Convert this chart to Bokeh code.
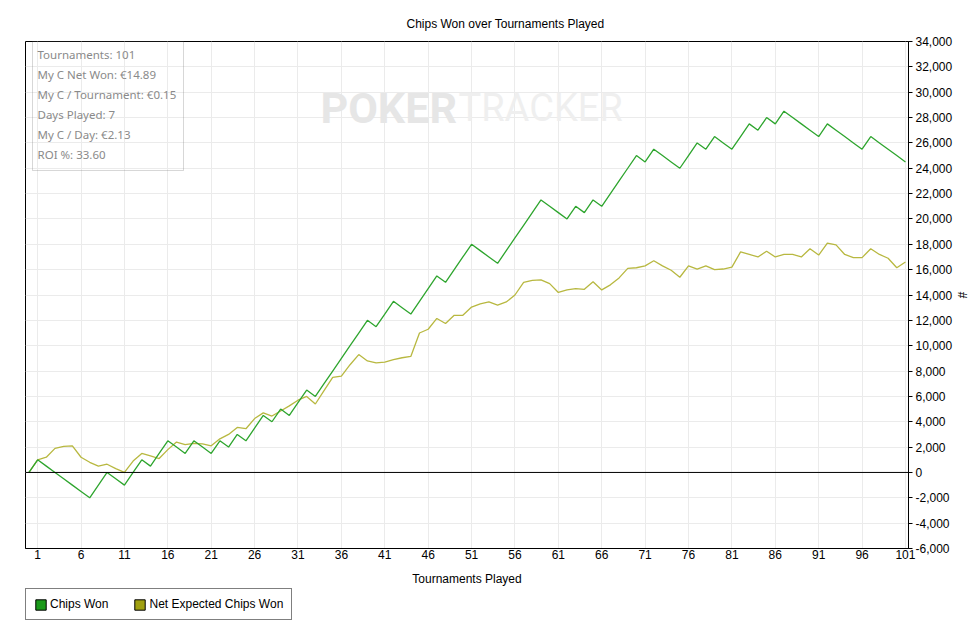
import numpy as np
from bokeh.plotting import figure
from bokeh.layouts import column
from bokeh.models import (FixedTicker, NumeralTickFormatter, Span, Legend, LegendItem,
                          Label, BoxAnnotation, Range1d)
from bokeh.embed import file_html
from bokeh.resources import INLINE

# ---------------- data ----------------
tournaments = list(range(0, 102))

chips_won = [
    0, 1000, 500, 0, -500, -1000, -1500, -2000, -1000, 0,
    -500, -1000, 0, 1000, 500, 1500, 2500, 2000, 1500, 2500,
    2000, 1500, 2500, 2000, 3000, 2500, 3500, 4500, 4000, 5000,
    4500, 5500, 6500, 6000, 7000, 8000, 9000, 10000, 11000, 12000,
    11500, 12500, 13500, 13000, 12500, 13500, 14500, 15500, 15000, 16000,
    17000, 18000, 17500, 17000, 16500, 17500, 18500, 19500, 20500, 21500,
    21000, 20500, 20000, 21000, 20500, 21500, 21000, 22000, 23000, 24000,
    25000, 24500, 25500, 25000, 24500, 24000, 25000, 26000, 25500, 26500,
    26000, 25500, 26500, 27500, 27000, 28000, 27500, 28500, 28000, 27500,
    27000, 26500, 27500, 27000, 26500, 26000, 25500, 26500, 26000, 25500,
    25000, 24500,
]

net_expected = [
    0, 1000, 1200, 1900, 2050, 2100, 1200, 800, 500, 650,
    300, 0, 900, 1500, 1300, 1100, 1800, 2400, 2200, 2300,
    2250, 2100, 2650, 3000, 3550, 3450, 4250, 4700, 4450, 4850,
    5250, 5700, 6000, 5400, 6450, 7500, 7600, 8500, 9300, 8800,
    8650, 8700, 8900, 9050, 9150, 11000, 11300, 12150, 11750, 12400,
    12400, 13050, 13300, 13450, 13200, 13450, 14000, 15000, 15150, 15200,
    14900, 14200, 14400, 14500, 14450, 15050, 14400, 14800, 15350, 16100,
    16150, 16300, 16700, 16300, 15950, 15400, 16300, 16050, 16300, 16000,
    16050, 16200, 17400, 17200, 17000, 17450, 17000, 17200, 17200, 17000,
    17650, 17150, 18100, 17950, 17200, 16950, 16950, 17650, 17200, 16900,
    16150, 16600,
]

x_ticks = [1, 6, 11, 16, 21, 26, 31, 36, 41, 46, 51, 56, 61, 66, 71, 76, 81, 86, 91, 96, 101]
y_ticks = [-6000, -4000, -2000, 0, 2000, 4000, 6000, 8000, 10000, 12000, 14000, 16000,
           18000, 20000, 22000, 24000, 26000, 28000, 30000, 32000, 34000]

stats_lines = [
    "Tournaments: 101",
    "My C Net Won: €14.89",
    "My C / Tournament: €0.15",
    "Days Played: 7",
    "My C / Day: €2.13",
    "ROI %: 33.60",
]

series_names = ["Chips Won", "Net Expected Chips Won"]

FONT = "Liberation Sans"
GREEN = "#2ea52e"
OLIVE = "#b8b840"

# ---------------- main figure ----------------
p = figure(width=972, height=588,
           x_range=Range1d(-0.4, 101.35), y_range=Range1d(-6000, 34000),
           y_axis_location="right",
           output_backend="svg", toolbar_location=None,
           min_border_left=25, min_border_top=41, min_border_right=62, min_border_bottom=40,
           title="Chips Won over Tournaments Played")

p.background_fill_color = "white"
p.border_fill_color = "white"
p.outline_line_color = "black"
p.outline_line_width = 1
p.outline_line_alpha = 1

p.title.text_font = FONT
p.title.text_font_size = "12px"
p.title.text_font_style = "normal"
p.title.text_color = "black"
p.title.align = "left"
p.title.offset = 381
p.title.standoff = 21

# x axis
xt = FixedTicker(ticks=x_ticks)
p.xaxis.ticker = xt
p.xgrid.ticker = xt
p.xaxis.axis_label = "Tournaments Played"
p.xaxis.axis_label_text_font = FONT
p.xaxis.axis_label_text_font_size = "12px"
p.xaxis.axis_label_text_font_style = "normal"
p.xaxis.axis_label_text_color = "black"
p.xaxis.axis_label_standoff = 10
p.xaxis.major_label_text_font = FONT
p.xaxis.major_label_text_font_size = "12px"
p.xaxis.major_label_text_color = "black"
p.xaxis.major_label_standoff = 1
p.xaxis.major_tick_out = 0
p.xaxis.major_tick_in = 0
p.xaxis.minor_tick_out = 0
p.xaxis.minor_tick_in = 0
p.xaxis.axis_line_color = "black"

# y axis (right)
yt = FixedTicker(ticks=y_ticks)
p.yaxis.ticker = yt
p.ygrid.ticker = yt
p.yaxis.formatter = NumeralTickFormatter(format="0,0")
p.yaxis.axis_label = "#"
p.yaxis.axis_label_text_font = FONT
p.yaxis.axis_label_text_font_size = "12px"
p.yaxis.axis_label_text_font_style = "normal"
p.yaxis.axis_label_text_color = "black"
p.yaxis.axis_label_standoff = 0
p.yaxis.major_label_text_font = FONT
p.yaxis.major_label_text_font_size = "12px"
p.yaxis.major_label_text_color = "black"
p.yaxis.major_label_standoff = 3
p.yaxis.major_tick_out = 4
p.yaxis.major_tick_in = 0
p.yaxis.major_tick_line_color = "black"
p.yaxis.minor_tick_out = 0
p.yaxis.minor_tick_in = 0
p.yaxis.axis_line_color = "black"

p.xgrid.grid_line_color = "#ebebeb"
p.ygrid.grid_line_color = "#ebebeb"
p.xgrid.grid_line_width = 1
p.ygrid.grid_line_width = 1

# watermark
p.add_layout(Label(x=295, y=441, x_units="screen", y_units="screen", text="POKER",
                   text_font="Roboto", text_font_size="43px", text_font_style="bold",
                   text_color="#e6e6e6", text_baseline="alphabetic", level="underlay"))
p.add_layout(Label(x=433, y=441, x_units="screen", y_units="screen", text="TRACKER",
                   text_font="Roboto", text_font_size="38px", text_font_style="normal",
                   text_color="#efefef", text_baseline="alphabetic", level="underlay"))

# zero line
p.add_layout(Span(location=0, dimension="width", line_color="black", line_width=1))

# series
p.line(tournaments, net_expected, line_color=OLIVE, line_width=1.3)
p.line(tournaments, chips_won, line_color=GREEN, line_width=1.3)

# stats box
p.add_layout(BoxAnnotation(left=7, right=158, top=507, bottom=378,
                           left_units="screen", right_units="screen",
                           top_units="screen", bottom_units="screen",
                           fill_alpha=0, line_color="#7a7a7a", line_width=1))
for i, s in enumerate(stats_lines):
    p.add_layout(Label(x=12, y=494 - 20 * i, x_units="screen", y_units="screen", text=s,
                       text_font="Noto Sans", text_font_size="11.5px",
                       text_color="#8a8a8a", text_baseline="middle"))

# ---------------- legend strip ----------------
q = figure(width=972, height=52, x_range=Range1d(0, 1), y_range=Range1d(0, 1),
           output_backend="svg", toolbar_location=None,
           x_axis_location=None, y_axis_location=None, min_border=0)
q.grid.visible = False
q.outline_line_color = None
q.background_fill_color = "white"
q.border_fill_color = "white"

nan = np.array([np.nan])
r_g = q.rect(x=nan, y=nan, width=1, height=1, fill_color="#1a9a1a", line_color="black")
r_o = q.rect(x=nan, y=nan, width=1, height=1, fill_color="#a0a010", line_color="black")
legend = Legend(items=[LegendItem(label=series_names[0], renderers=[r_g]),
                       LegendItem(label=series_names[1], renderers=[r_o])],
                orientation="horizontal", location=(0, 20))
legend.margin = 0
legend.padding = 8
legend.spacing = 25
legend.glyph_width = 13
legend.glyph_height = 13
legend.label_standoff = 3
legend.label_text_font = FONT
legend.label_text_font_size = "12px"
legend.label_text_color = "black"
legend.border_line_color = "black"
legend.border_line_width = 1
legend.background_fill_color = "white"
legend.background_fill_alpha = 1
q.add_layout(legend, "center")

layout = column(p, q, spacing=0)
open("out.html", "w").write(file_html(layout, INLINE))
